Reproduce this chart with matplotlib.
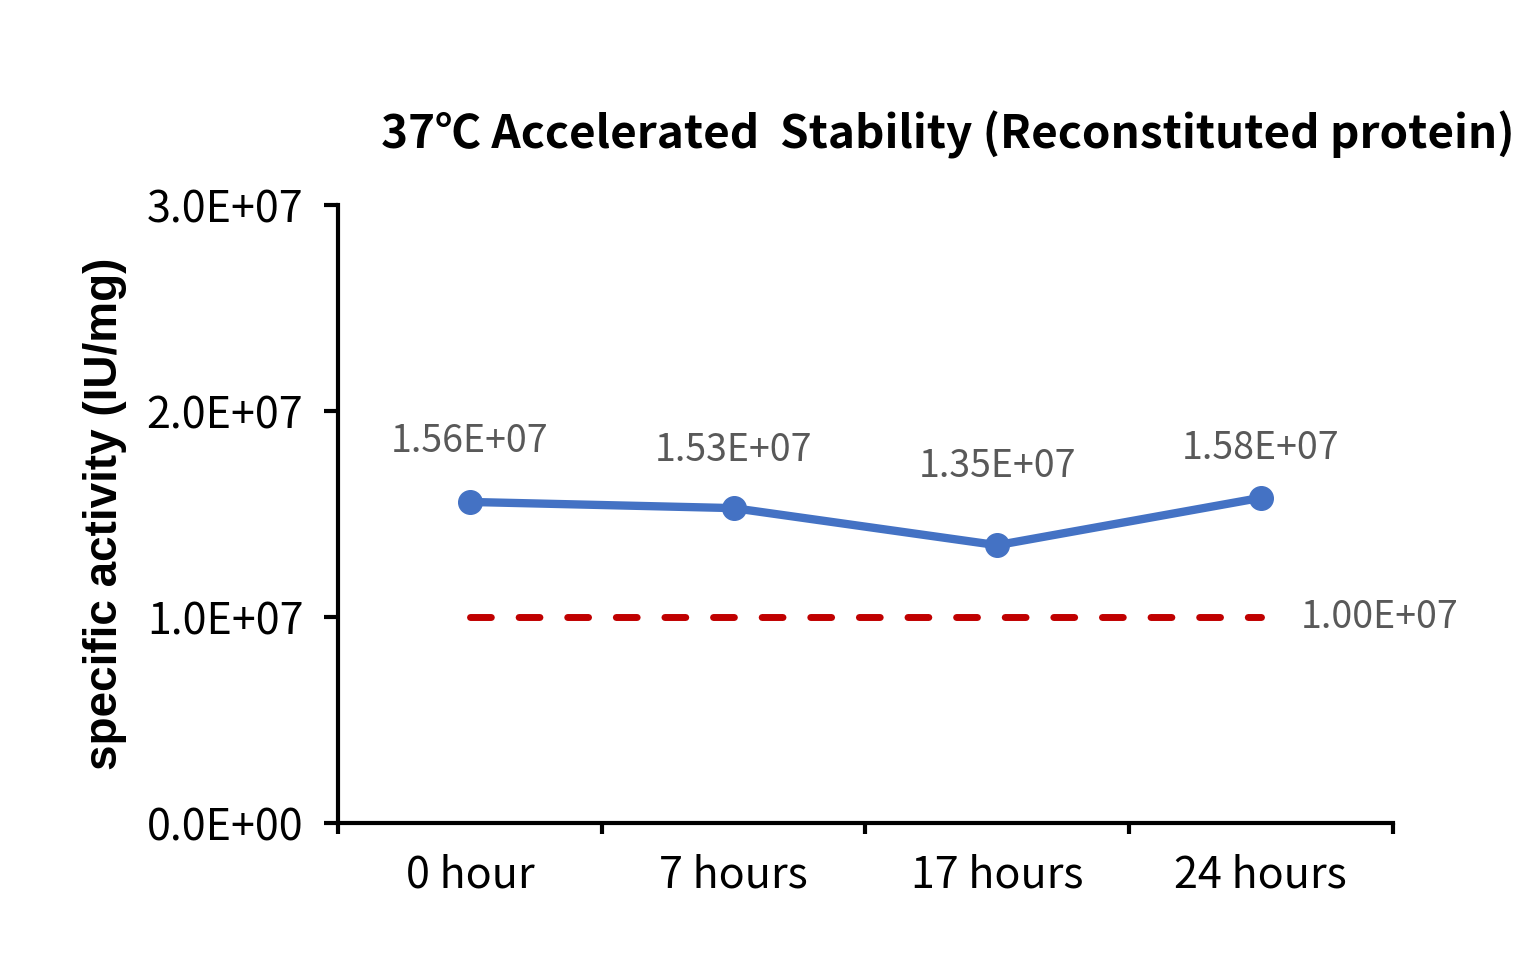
import matplotlib
matplotlib.use("Agg")
import matplotlib.pyplot as plt
import numpy as np

categories = ["0 hour", "7 hours", "17 hours", "24 hours"]
activity = [1.56e7, 1.53e7, 1.35e7, 1.58e7]
limit_values = [1.0e7, 1.0e7, 1.0e7, 1.0e7]
y_ticks = [0.0, 1.0e7, 2.0e7, 3.0e7]

# pixel offsets of the point labels above each marker
label_offsets = [60, 58, 79, 49]

BLUE = "#4472C4"
RED = "#C00000"
GREY = "#595959"
CJK = ["Noto Sans CJK SC", "DejaVu Sans"]

fig = plt.figure(figsize=(15.37, 9.64), dpi=100)
ax = fig.add_axes([0.220, 0.146, 0.686, 0.641])

x = np.arange(len(categories))
ax.plot(x, activity, color=BLUE, lw=6.0, marker="o", markersize=17,
        solid_capstyle="round", zorder=3)
ax.plot(x, limit_values, color=RED, lw=5.0, dashes=(3, 4),
        dash_capstyle="round", zorder=2)

for xi, val, off in zip(x, activity, label_offsets):
    ax.annotate(f"{val:.2E}", (xi, val), xytext=(0, off * 0.72),
                textcoords="offset points", ha="center", va="center",
                fontsize=27, color=GREY, family=CJK)
ax.annotate(f"{limit_values[-1]:.2E}", (x[-1], limit_values[-1]),
            xytext=(29, 0), textcoords="offset points", ha="left",
            va="center", fontsize=27, color=GREY, family=CJK)

ax.set_xlim(-0.5, len(categories) - 0.5)
ax.set_ylim(0, 3.0e7)
ax.set_yticks(y_ticks)
ax.set_yticklabels([f"{v:.1E}" for v in y_ticks], family=CJK, fontsize=31)
ax.set_xticks(np.arange(-0.5, len(categories)), minor=False)
ax.set_xticklabels([])
ax.set_xticks(x, minor=True)
ax.set_xticklabels(categories, minor=True, family=CJK, fontsize=31)
ax.tick_params(axis="x", which="major", direction="out", length=8, width=3)
ax.tick_params(axis="x", which="minor", length=0, pad=22)
ax.tick_params(axis="y", direction="out", length=10, width=3, pad=15)

for side in ("top", "right"):
    ax.spines[side].set_visible(False)
for side in ("left", "bottom"):
    ax.spines[side].set_linewidth(3)

ax.set_ylabel("specific activity (IU/mg)", family="Liberation Sans",
              fontweight="bold", fontsize=33, labelpad=14)
fig.text(0.6165, 0.860, "37\u2103 Accelerated  Stability (Reconstituted protein)",
         ha="center", va="center", family=CJK, fontweight="bold",
         fontsize=33)

fig.savefig("out.png", dpi=100)
